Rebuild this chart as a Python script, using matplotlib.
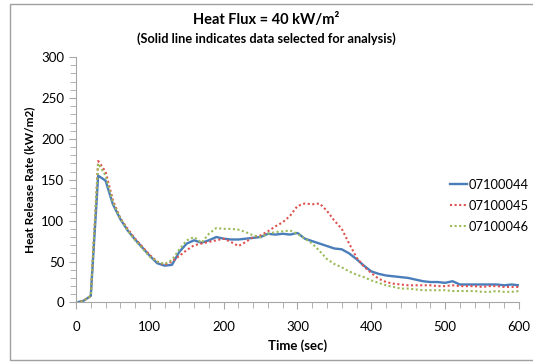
import numpy as np
import matplotlib.pyplot as plt
from matplotlib.patches import Rectangle
from matplotlib.ticker import MultipleLocator

plt.rcParams['font.family'] = ['Lato', 'DejaVu Sans']

# ---------- data: heat release rate vs time ----------
time_sec = np.arange(0, 601, 10)

hrr_07100044 = [0, 2, 8, 155, 149, 120, 102, 88, 77, 67,
                57, 48, 45, 46, 62, 72, 76, 73, 76, 80,
                78, 77, 77, 78, 79, 80, 84, 83, 84, 83,
                85, 78, 75, 72, 69, 66, 65, 60, 53, 45,
                38, 35, 33, 32, 31, 30, 28, 26, 25, 25,
                24, 26, 22, 22, 22, 22, 22, 22, 21, 22, 21]

hrr_07100045 = [0, 2, 8, 173, 160, 125, 103, 90, 78, 68,
                58, 50, 46, 50, 57, 64, 70, 72, 74, 76,
                78, 74, 69, 74, 80, 82, 87, 93, 98, 106,
                118, 121, 120, 121, 112, 100, 90, 72, 55, 44,
                36, 29, 25, 23, 22, 21, 21, 21, 21, 20,
                20, 21, 20, 20, 20, 19, 20, 20, 19, 19, 19]

hrr_07100046 = [0, 2, 8, 170, 155, 122, 103, 88, 76, 66,
                56, 50, 47, 52, 65, 76, 80, 73, 84, 91,
                90, 90, 89, 86, 82, 80, 84, 86, 87, 88,
                84, 78, 72, 63, 53, 47, 43, 38, 34, 31,
                27, 24, 21, 19, 17, 17, 16, 15, 15, 15,
                15, 14, 14, 14, 14, 13, 13, 14, 13, 13, 14]

labels = ['07100044', '07100045', '07100046']

fig = plt.figure(figsize=(5.33, 3.62), dpi=100)
ax = fig.add_axes([0.1426, 0.1644, 0.831, 0.678])

# chart frame
fig.patches.append(Rectangle((10 / 533, 2 / 362), 530 / 533, 356 / 362,
                             transform=fig.transFigure, fill=False,
                             edgecolor='#a0a0a0', linewidth=1.0))

ax.plot(time_sec, hrr_07100044, color='#4A7EBB', linewidth=1.7, label=labels[0])
ax.plot(time_sec, hrr_07100045, color='#E05050', linewidth=1.5,
        linestyle=(0, (1, 1.2)), label=labels[1])
ax.plot(time_sec, hrr_07100046, color='#9BBB59', linewidth=1.5,
        linestyle=(0, (1, 1.2)), label=labels[2])

ax.set_xlim(0, 600)
ax.set_ylim(0, 300)
ax.xaxis.set_major_locator(MultipleLocator(100))
ax.xaxis.set_minor_locator(MultipleLocator(20))
ax.yaxis.set_major_locator(MultipleLocator(50))
ax.yaxis.set_minor_locator(MultipleLocator(10))

for side in ['top', 'right']:
    ax.spines[side].set_visible(False)
for side in ['left', 'bottom']:
    ax.spines[side].set_color('#a6a6a6')
ax.tick_params(which='both', direction='out', color='#a6a6a6', labelsize=9.5, labelcolor='black')
ax.tick_params(which='major', length=5)
ax.tick_params(which='minor', length=4)
ax.tick_params(axis='x', pad=8)

ax.set_xlabel('Time (sec)', fontsize=9.5, fontweight='bold', labelpad=5)
ax.set_ylabel('Heat Release Rate (kW/m2)', fontsize=8.5, fontweight='bold', labelpad=4)

fig.text(0.5, 0.945, 'Heat Flux = 40 kW/m²', ha='center', va='center',
         fontsize=10.5, fontweight='bold')
fig.text(0.5, 0.893, '(Solid line indicates data selected for analysis)', ha='center',
         va='center', fontsize=9.2, fontweight='bold')

ax.legend(loc='upper left', bbox_to_anchor=(0.845, 0.505), frameon=False, fontsize=9.3,
          handlelength=1.3, handletextpad=0.1, labelspacing=0.7, borderaxespad=0,
          borderpad=0)

fig.savefig('out.png', dpi=100, facecolor='white')
